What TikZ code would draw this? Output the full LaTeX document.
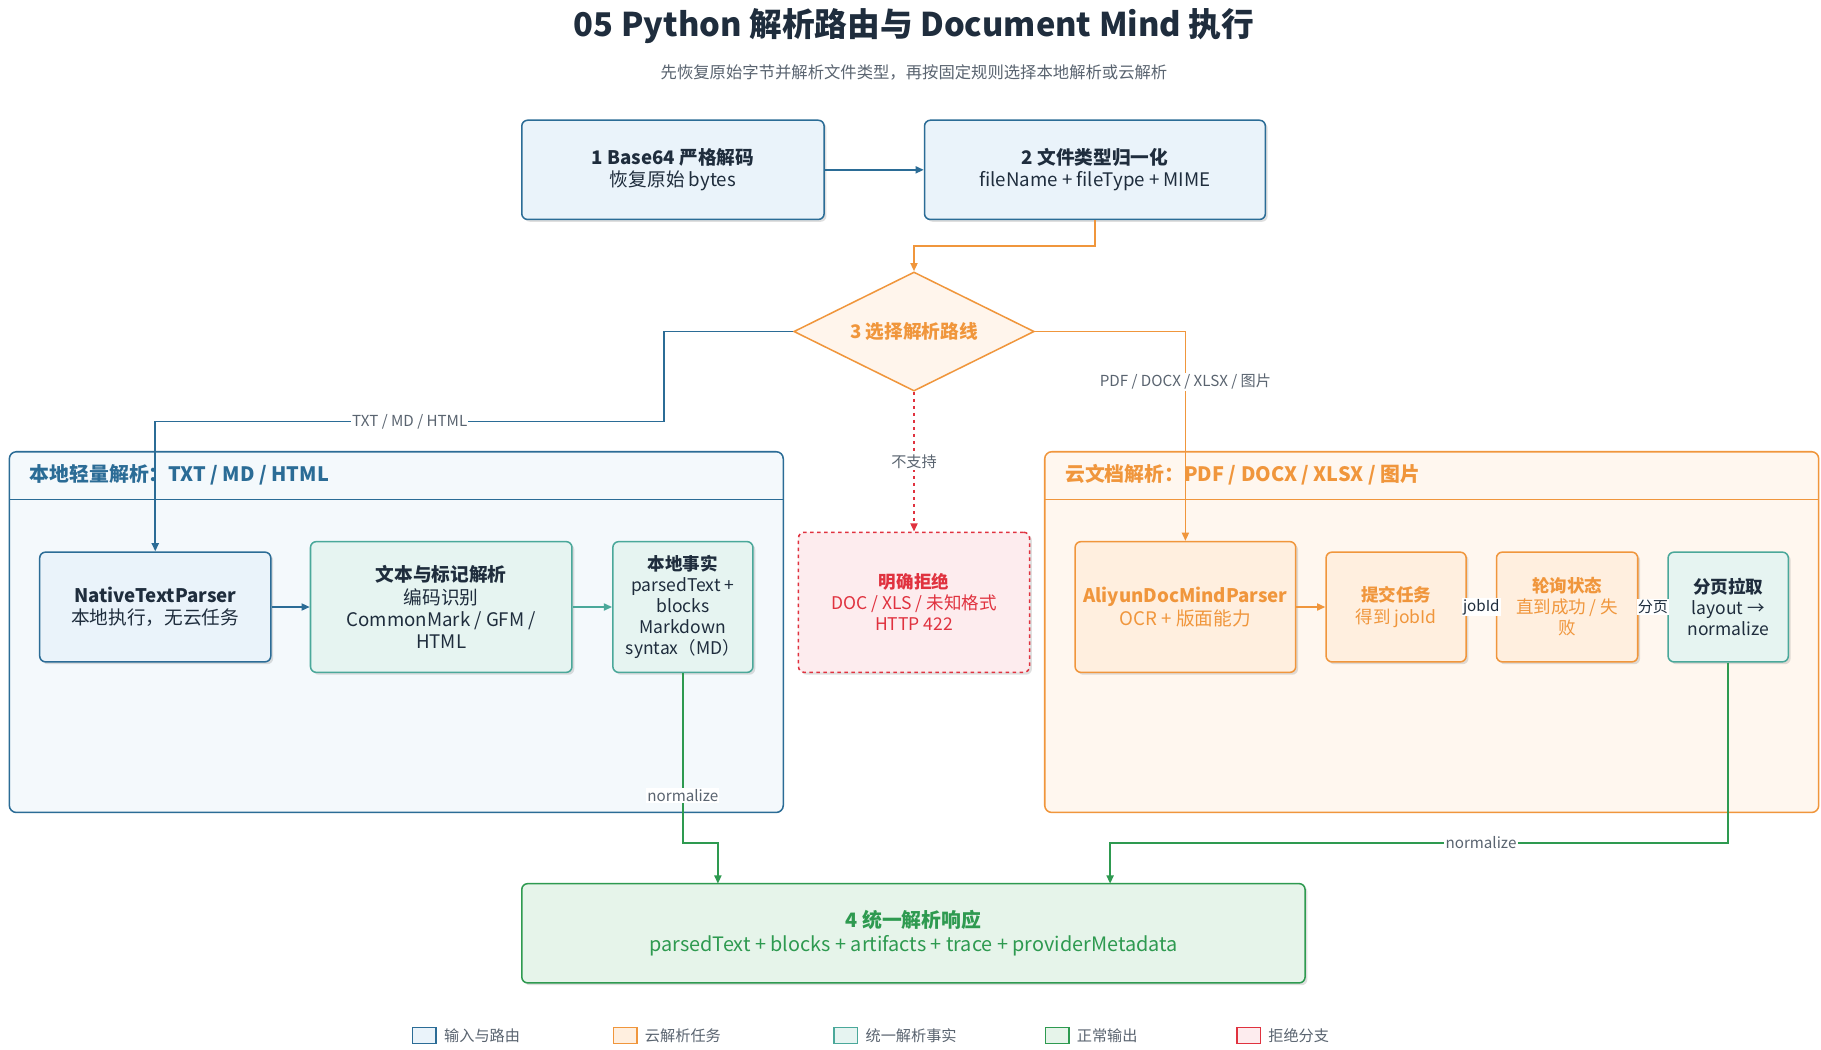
\documentclass[tikz,border=0pt]{standalone}
\usepackage{fontspec}
\setmainfont{Noto Sans CJK SC}
\usetikzlibrary{shapes.geometric,arrows.meta,shadows}
\definecolor{bl}{HTML}{2B6C96}\definecolor{blf}{HTML}{EAF3FA}
\definecolor{or}{HTML}{F0963C}\definecolor{orf}{HTML}{FFEFDF}
\definecolor{te}{HTML}{4AA89A}\definecolor{tef}{HTML}{E6F4F1}
\definecolor{gr}{HTML}{2E9A50}\definecolor{grf}{HTML}{E6F4EA}
\definecolor{rd}{HTML}{E0323F}\definecolor{rdf}{HTML}{FDECEE}
\definecolor{tx}{HTML}{1F2D3D}\definecolor{gy}{HTML}{5A6470}
\begin{document}
\begin{tikzpicture}[x=1pt,y=-1pt,
 box/.style={draw,rounded corners=5pt,line width=1.3pt,align=center,inner sep=0pt,font=\fontsize{16}{19}\selectfont,drop shadow={opacity=0.25,shadow xshift=2pt,shadow yshift=-2pt}},
 bx/.style={box,draw=bl,fill=blf,text=tx},
 ox/.style={box,draw=or,fill=orf,text=or},
 tx/.style={box,draw=te,fill=tef,text=tx},
 ar/.style={line width=1.5pt,-{Triangle[length=7pt,width=6pt]}},
 lab/.style={fill=white,inner sep=1pt,text=gy,font=\fontsize{13}{15}\selectfont},
 cont/.style={draw,rounded corners=6pt,line width=1.3pt},
 leg/.style={draw,line width=1.2pt,minimum width=20pt,minimum height=14pt,inner sep=0pt}]
\useasboundingbox (0,0) rectangle (1560,899);
\fill[white] (0,0) rectangle (1560,899);
\node[text=tx,font=\fontsize{28}{32}\selectfont\bfseries] (t) at (783,22) {05 Python 解析路由与 Document Mind 执行};
\node[text=gy,font=\fontsize{14}{16}\selectfont] (st) at (783,62) {先恢复原始字节并解析文件类型，再按固定规则选择本地解析或云解析};
% containers
\draw[cont,draw=bl,fill=blf!50] (8,387) rectangle (671,696);
\draw[bl,line width=1.3pt] (8,428) -- (671,428);
\node[anchor=west,text=bl,font=\fontsize{17}{20}\selectfont\bfseries] (lt) at (22,407) {本地轻量解析：TXT / MD / HTML};
\draw[cont,draw=or,fill=orf!50] (895,387) rectangle (1558,696);
\draw[or,line width=1.3pt] (895,428) -- (1558,428);
\node[anchor=west,text=or,font=\fontsize{17}{20}\selectfont\bfseries] (ct) at (909,407) {云文档解析：PDF / DOCX / XLSX / 图片};
% nodes
\node[bx,minimum width=259pt,minimum height=85pt] (b1) at (576.5,145.5) {\textbf{1 Base64 严格解码}\\恢复原始 bytes};
\node[bx,minimum width=292pt,minimum height=85pt] (b2) at (938,145.5) {\textbf{2 文件类型归一化}\\fileName + fileType + MIME};
\node[diamond,draw=or,fill=orf!60,line width=1.3pt,minimum width=206pt,minimum height=102pt,aspect=2,inner sep=0pt,text=or,font=\fontsize{16}{19}\selectfont\bfseries] (d) at (783,284) {3 选择解析路线};
\node[bx,minimum width=198pt,minimum height=94pt] (n1) at (133,520) {\textbf{NativeTextParser}\\本地执行，无云任务};
\node[tx,minimum width=224pt,minimum height=112pt] (n2) at (378,520) {\textbf{文本与标记解析}\\编码识别\\CommonMark / GFM /\\HTML};
\node[tx,minimum width=120pt,minimum height=112pt,font=\fontsize{15}{18}\selectfont] (n3) at (585,520) {\textbf{本地事实}\\parsedText +\\blocks\\Markdown\\syntax（MD）};
\node[box,draw=rd,fill=rdf,text=rd,dashed,minimum width=198pt,minimum height=120pt,font=\fontsize{15}{18}\selectfont] (r) at (783,516) {\textbf{明确拒绝}\\DOC / XLS / 未知格式\\HTTP 422};
\node[ox,minimum width=189pt,minimum height=112pt] (c1) at (1015.5,520) {\textbf{AliyunDocMindParser}\\OCR + 版面能力};
\node[ox,minimum width=120pt,minimum height=94pt,font=\fontsize{15}{18}\selectfont] (c2) at (1196,520) {\textbf{提交任务}\\得到 jobId};
\node[ox,minimum width=121pt,minimum height=94pt,font=\fontsize{15}{18}\selectfont] (c3) at (1342.5,520) {\textbf{轮询状态}\\直到成功 / 失\\败};
\node[tx,minimum width=103pt,minimum height=94pt,font=\fontsize{15}{18}\selectfont] (c4) at (1480.5,520) {\textbf{分页拉取}\\layout →\\normalize};
\node[box,draw=gr,fill=grf,text=gr,minimum width=671pt,minimum height=85pt,font=\fontsize{17}{20}\selectfont] (o) at (782.5,799.5) {\textbf{4 统一解析响应}\\parsedText + blocks + artifacts + trace + providerMetadata};
% connectors
\draw[ar,bl] (b1) -- (b2);
\draw[ar,or] (b2.south) |- (783,211) -- (d.north);
\draw[ar,bl] (d.west) -| (569,361) -| node[lab,pos=0.25]{TXT / MD / HTML} (n1.north);
\draw[ar,or] (d.east) -| node[lab,pos=0.62]{PDF / DOCX / XLSX / 图片} (c1.north);
\draw[ar,rd,dashed] (d.south) -- node[lab]{不支持} (r.north);
\draw[ar,bl] (n1) -- (n2);
\draw[ar,te] (n2) -- (n3);
\draw[ar,or] (c1) -- (c2);
\draw[ar,or] (c2) -- node[lab,text=tx]{jobId} (c3);
\draw[ar,te] (c3) -- node[lab,text=tx]{分页} (c4);
\draw[ar,gr] (n3.south) -- node[lab,pos=0.72]{normalize} (585,722) -| (615,757);
\draw[ar,gr] (c4.south) |- node[lab,pos=0.7]{normalize} (951,722) -- (951,757);
% legend
\foreach \x/\c/\f/\t [count=\i] in {353/bl/blf/输入与路由,525/or/orf/云解析任务,714/te/tef/统一解析事实,895/gr/grf/正常输出,1059/rd/rdf/拒绝分支}{
 \node[leg,draw=\c,fill=\f,anchor=west] (l\i) at (\x,887) {};
 \node[anchor=west,text=gy,font=\fontsize{13}{15}\selectfont] (lt\i) at (\x+24,887) {\t};}
\end{tikzpicture}
\end{document}
